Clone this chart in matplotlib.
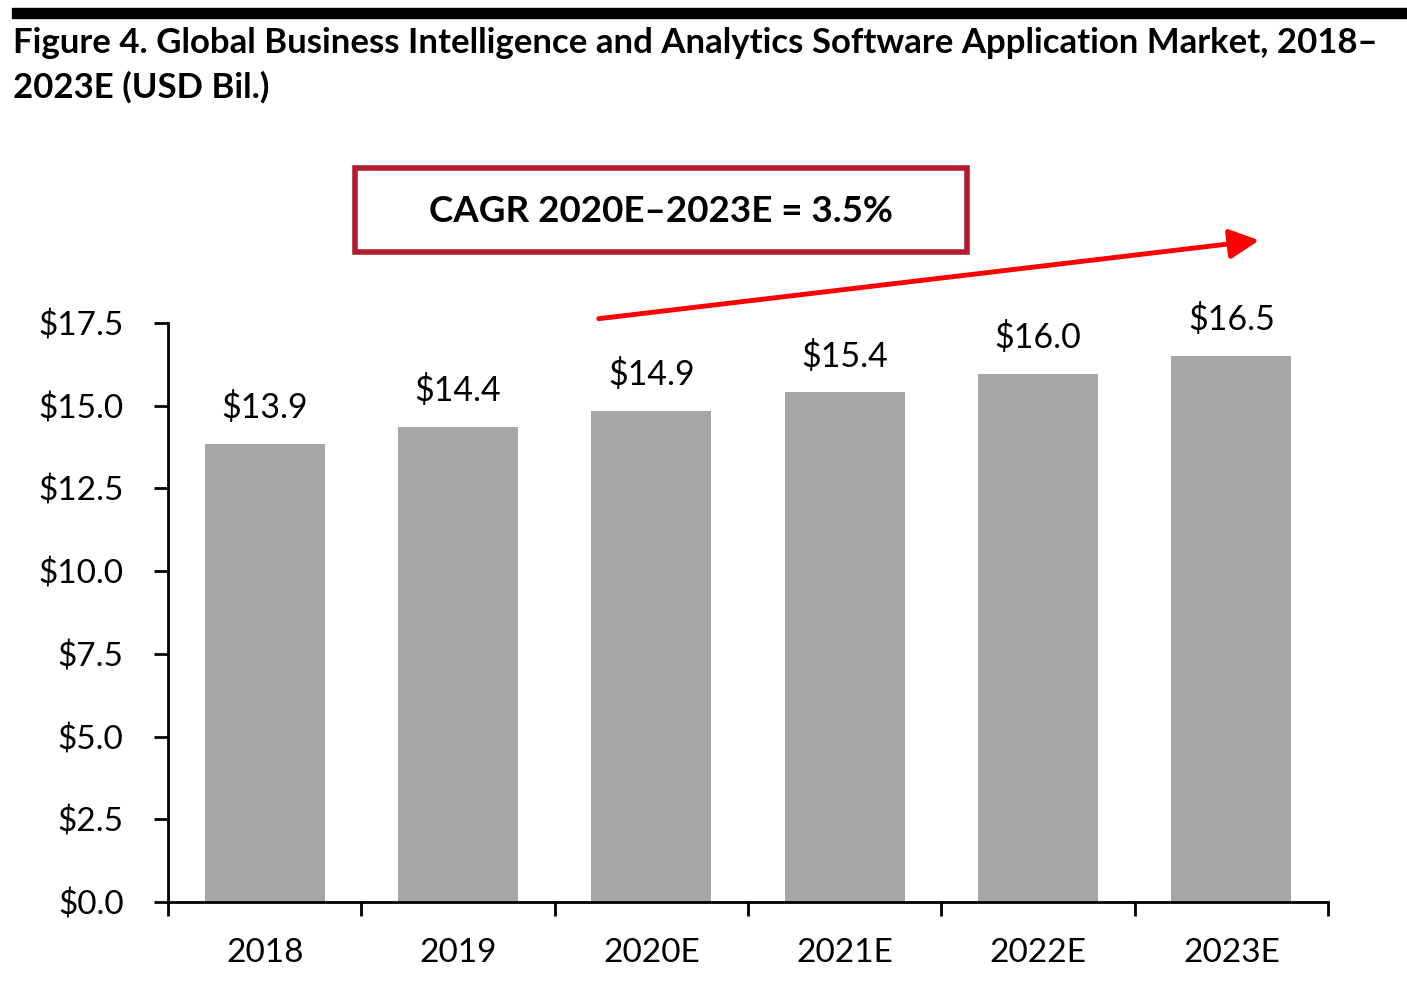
import matplotlib.pyplot as plt
from matplotlib.patches import Rectangle, FancyArrowPatch
from matplotlib.ticker import FixedLocator, FuncFormatter
import numpy as np

years = ['2018', '2019', '2020E', '2021E', '2022E', '2023E']
market = [13.85, 14.35, 14.85, 15.4, 15.95, 16.5]
labels = ['$13.9', '$14.4', '$14.9', '$15.4', '$16.0', '$16.5']
title = 'Figure 4. Global Business Intelligence and Analytics Software Application Market, 2018\u2013\n2023E (USD Bil.)'
cagr_text = 'CAGR 2020E\u20132023E = 3.5%'

plt.rcParams['font.family'] = ['Lato', 'DejaVu Sans']
W, H = 1407, 1006
fig = plt.figure(figsize=(W / 100, H / 100), dpi=100)

ax = fig.add_axes([168 / W, 1 - 902 / H, (1328 - 168) / W, (902 - 323) / H])
x = np.arange(len(years))
ax.bar(x, market, width=0.62, color='#A6A6A6')
ax.set_xlim(-0.5, len(years) - 0.5)
ax.set_ylim(0, 17.5)
for xi, v, lab in zip(x, market, labels):
    ax.text(xi, v + 0.6, lab, ha='center', va='bottom', fontsize=24.5)

ax.set_yticks(np.arange(0, 17.6, 2.5))
ax.yaxis.set_major_formatter(FuncFormatter(lambda v, p: '$%.1f' % v))
ax.xaxis.set_major_locator(FixedLocator(np.arange(-0.5, len(years), 1)))
ax.xaxis.set_major_formatter(FuncFormatter(lambda v, p: ''))
ax.xaxis.set_minor_locator(FixedLocator(x))
ax.set_xticklabels(years, minor=True)
ax.tick_params(axis='x', which='major', length=10, width=2, direction='out')
ax.tick_params(axis='x', which='minor', length=0, pad=26, labelsize=24)
ax.tick_params(axis='y', length=10, width=2, direction='out', labelsize=24, pad=22)
for s in ['top', 'right']:
    ax.spines[s].set_visible(False)
for s in ['left', 'bottom']:
    ax.spines[s].set_linewidth(2)

# top black rule
fig.patches.append(Rectangle((12 / W, 1 - 18 / H), 1 - 12 / W, 10 / H,
                             transform=fig.transFigure, color='black', zorder=5))
fig.text(13 / W, 1 - 27 / H, title, ha='left', va='top', fontsize=25,
         fontweight='bold', linespacing=1.45)

# CAGR box
fig.patches.append(Rectangle((355 / W, 1 - 252 / H), (967 - 355) / W, (252 - 168) / H,
                             transform=fig.transFigure, fill=False,
                             edgecolor='#B01C2E', linewidth=4))
fig.text(661 / W, 1 - 211 / H, cagr_text, ha='center', va='center',
         fontsize=26.5, fontweight='bold')

arrow = FancyArrowPatch((596 / W, 1 - 319 / H), (1262 / W, 1 - 240 / H),
                        transform=fig.transFigure, color='#FF0000', linewidth=3.5,
                        arrowstyle='-|>,head_length=1.8,head_width=0.9',
                        mutation_scale=10)
fig.patches.append(arrow)

fig.savefig('out.png', dpi=100)
